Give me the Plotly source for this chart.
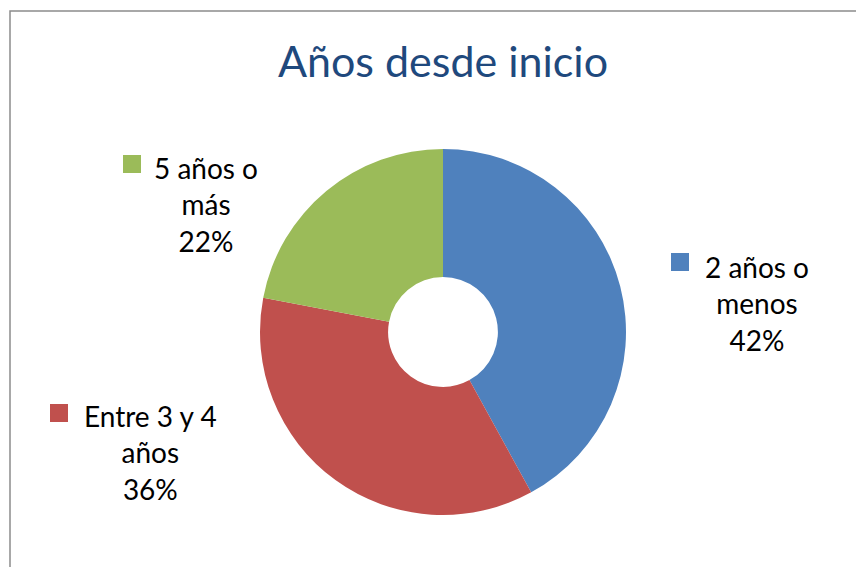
import plotly.graph_objects as go

categories = ["2 años o menos", "Entre 3 y 4 años", "5 años o más"]
values = [42, 36, 22]
colors = ["#4F81BD", "#C0504D", "#9BBB59"]
label_texts = ["2 años o<br>menos<br>42%", "Entre 3 y 4<br>años<br>36%", "5 años o<br>más<br>22%"]

OFF = 8  # page body margin
W, H = 864 - OFF, 567 - OFF
def px(x): return (x - OFF) / W
def py(y): return 1 - (y - OFF) / H

cx, cy, r = 443, 332, 183

fig = go.Figure(go.Pie(
    labels=categories, values=values, sort=False, direction="clockwise",
    rotation=0, hole=0.30, textinfo="none", hoverinfo="label+percent",
    marker=dict(colors=colors, line=dict(color="white", width=0)),
    domain=dict(x=[px(cx - r), px(cx + r)], y=[py(cy + r), py(cy - r)]),
    showlegend=False,
))

font_family = "Lato, 'Open Sans', sans-serif"
label_pos = [(757, 303, 671, 253), (150, 452, 50, 404), (206, 204, 123, 155)]
annotations = []
shapes = []
for txt, col, (tx, ty, sx, sy) in zip(label_texts, colors, label_pos):
    annotations.append(dict(x=px(tx), y=py(ty), xref="paper", yref="paper", text=txt,
                            showarrow=False, xanchor="center", yanchor="middle", align="center",
                            font=dict(family=font_family, size=28, color="black")))
    shapes.append(dict(type="rect", xref="paper", yref="paper", x0=px(sx), x1=px(sx + 18),
                       y0=py(sy + 18), y1=py(sy), fillcolor=col, line=dict(width=0)))

shapes.append(dict(type="rect", xref="paper", yref="paper", x0=px(10), x1=px(900),
                   y0=py(600), y1=py(11), line=dict(color="#8C8C8C", width=1.5),
                   fillcolor="rgba(0,0,0,0)", layer="below"))

fig.update_layout(
    width=W, height=H, margin=dict(l=0, r=0, t=0, b=0),
    paper_bgcolor="white", plot_bgcolor="white",
    title=dict(text="Años desde inicio", x=px(443), xanchor="center", y=py(62), yanchor="middle",
               font=dict(family=font_family, size=43, color="#1F497D")),
    annotations=annotations, shapes=shapes,
)

fig.write_html("out.html")
